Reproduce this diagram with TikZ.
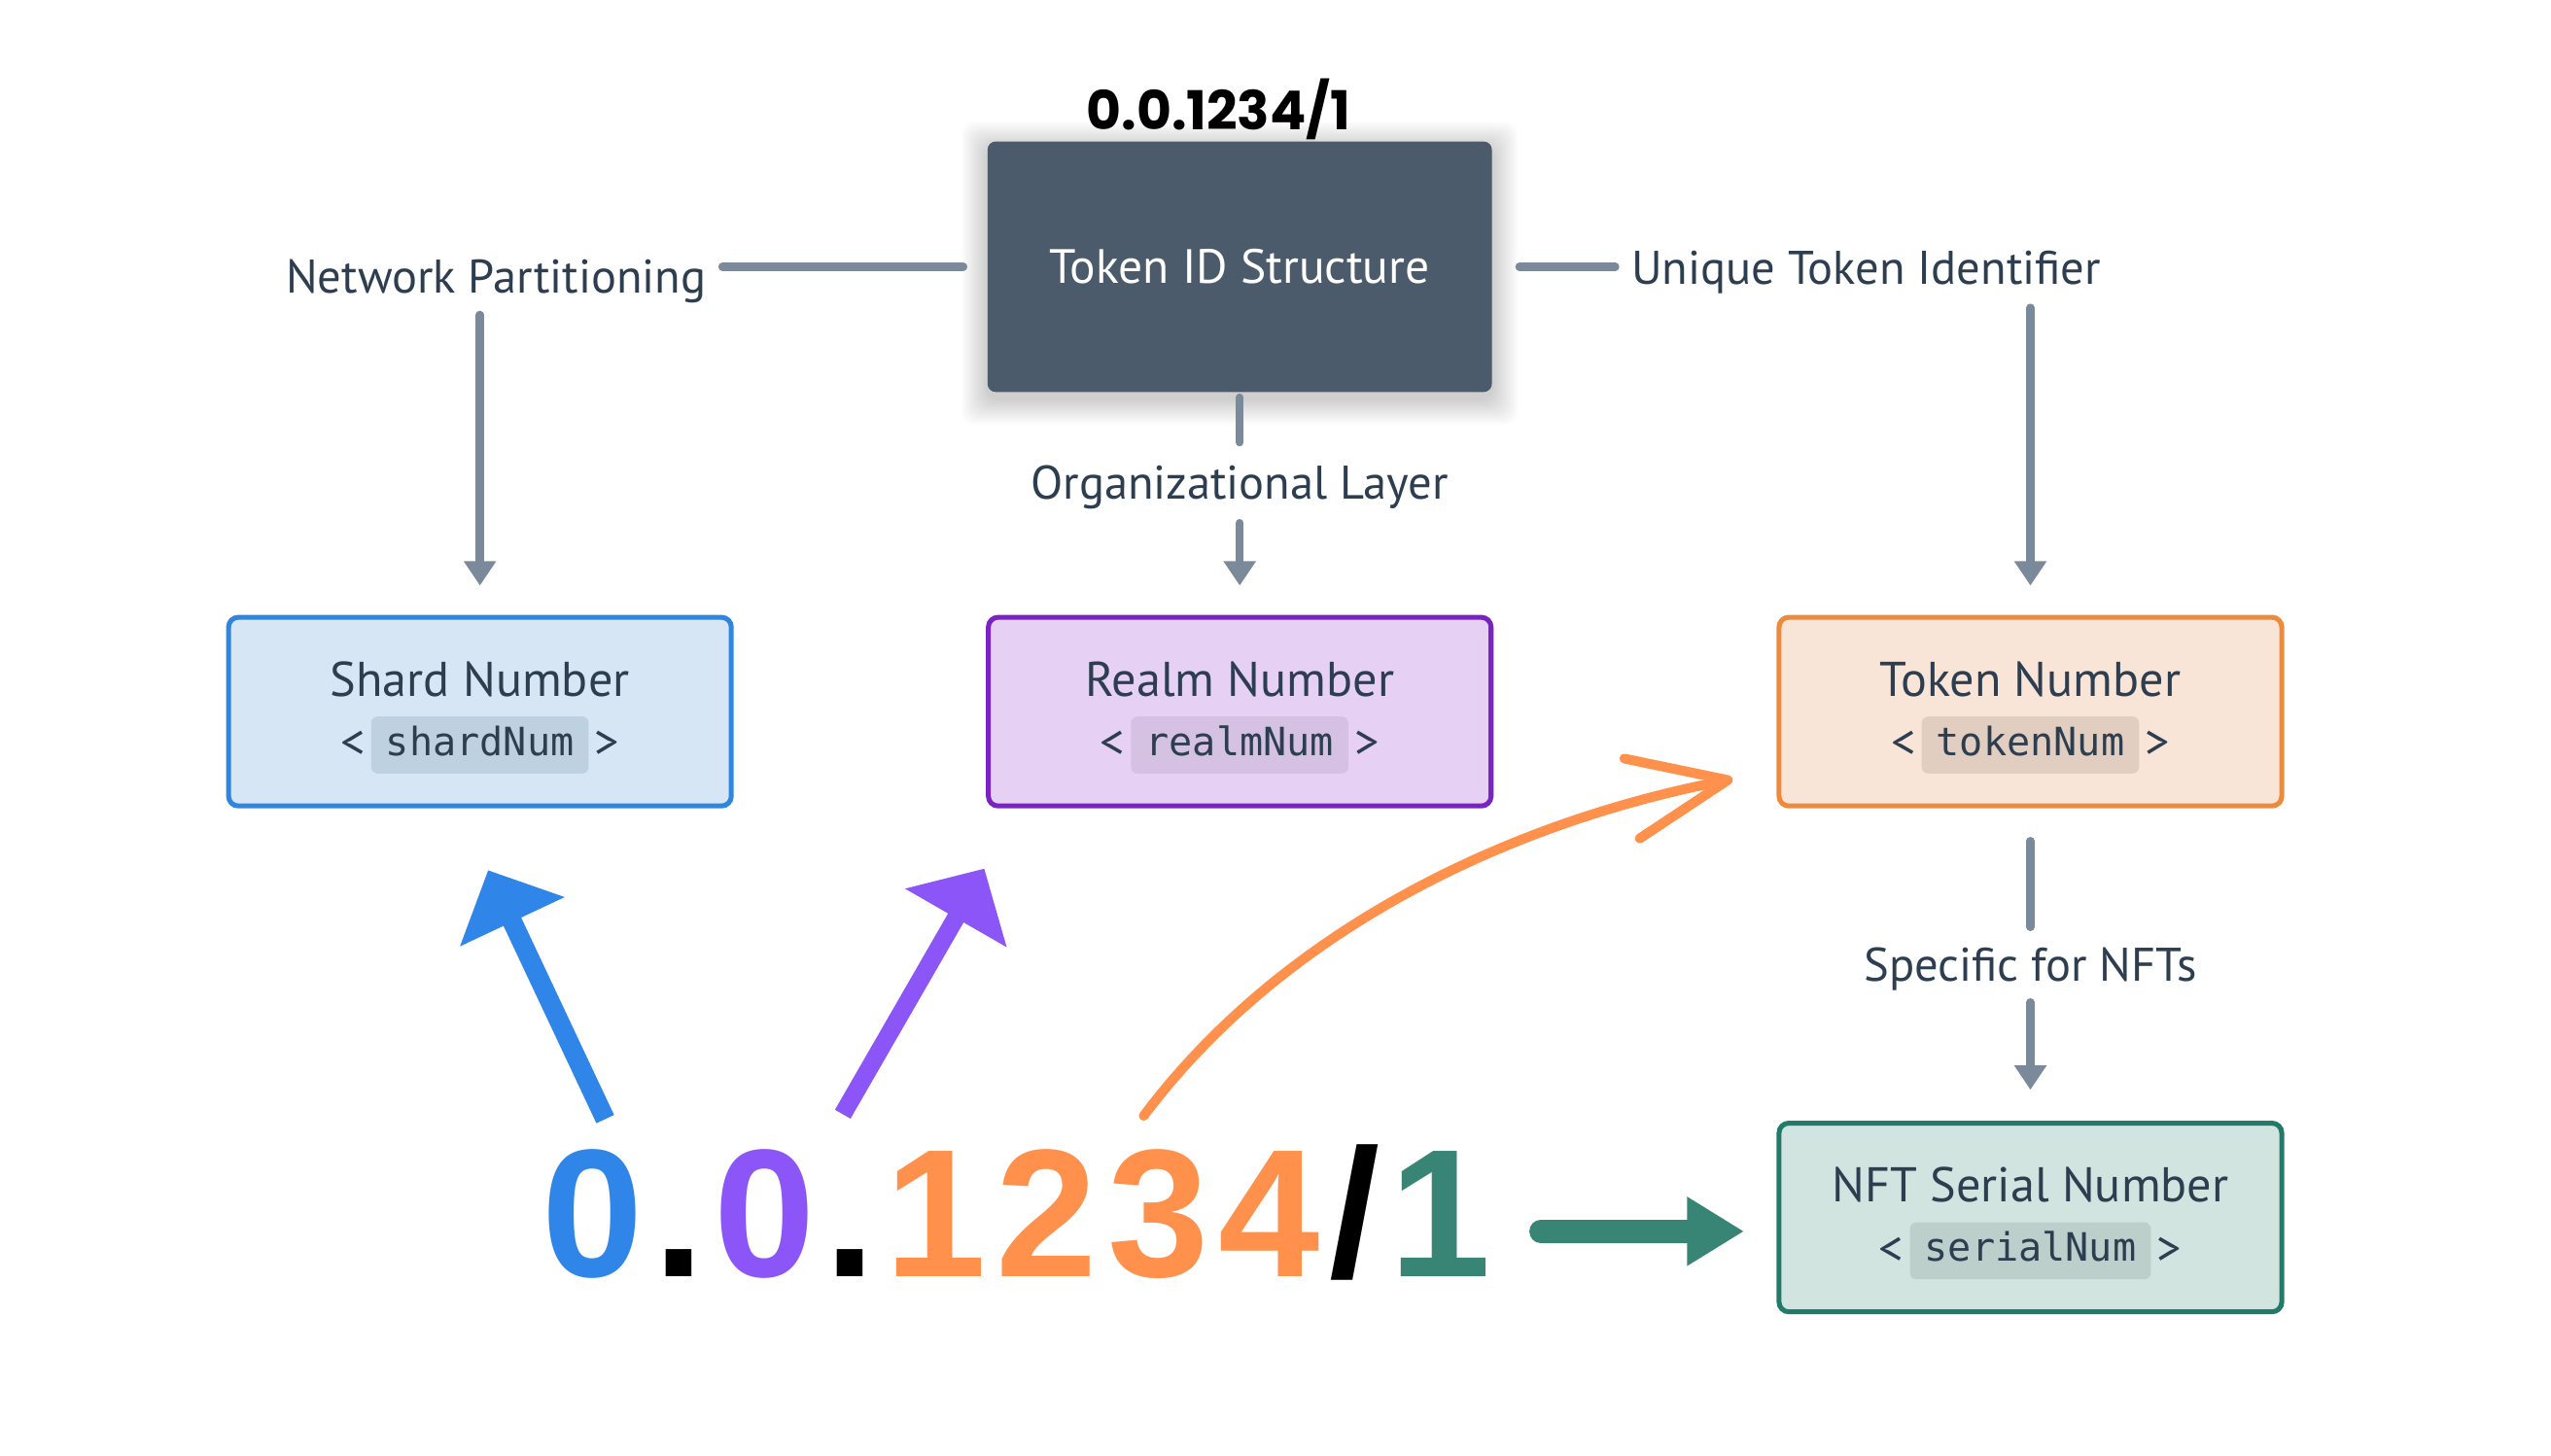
\documentclass[tikz,border=0pt]{standalone}
\usepackage{fontspec}
\setmainfont{PT Sans}
\setmonofont{DejaVu Sans Mono}
\newfontfamily\popfont{Poppins}
\newfontfamily\bigfont{Liberation Sans}
\usetikzlibrary{arrows.meta}
\definecolor{slate}{HTML}{4B5B6B}
\definecolor{conn}{HTML}{7B8A9A}
\definecolor{txt}{HTML}{2D3E50}
\definecolor{bBorder}{HTML}{2E86DE}\definecolor{bFill}{HTML}{D6E6F5}\definecolor{bCode}{HTML}{BED1E0}
\definecolor{pBorder}{HTML}{7B22C2}\definecolor{pFill}{HTML}{E6D1F4}\definecolor{pCode}{HTML}{D5C1E2}
\definecolor{oBorder}{HTML}{EE8A3C}\definecolor{oFill}{HTML}{F9E5D8}\definecolor{oCode}{HTML}{E1CEC0}
\definecolor{gBorder}{HTML}{227A68}\definecolor{gFill}{HTML}{D2E4E0}\definecolor{gCode}{HTML}{BCCFCB}
\definecolor{bigblue}{HTML}{2F86E8}
\definecolor{bigpurple}{HTML}{8C55F7}
\definecolor{bigorange}{HTML}{FF914D}
\definecolor{biggreen}{HTML}{388576}
\begin{document}
\begin{tikzpicture}[x=0.5pt,y=-0.5pt,
  lbl/.style={font=\fontsize{14.5}{16}\selectfont, text=txt, inner sep=0pt},
  ttl/.style={font=\fontsize{15}{17}\selectfont, text=txt, inner sep=0pt},
  cn/.style={draw=conn, line width=2.5pt, line cap=round},
  cnarr/.style={cn, -{Triangle[length=7.5pt,width=9.5pt]}},
  card/.style={line width=1.5pt, rounded corners=3pt, minimum width=154.5pt, minimum height=58pt, inner sep=0pt},
  code/.style={font=\ttfamily\fontsize{12}{14}\selectfont, text=txt, rounded corners=2pt, inner xsep=4.5pt, inner ysep=0pt, minimum height=17.5pt, text height=9pt, text depth=2.5pt},
  bigtxt/.style={font=\bigfont\bfseries\fontsize{56}{60}\selectfont, inner sep=0pt, anchor=base west}
]
\useasboundingbox[fill=white] (0,0) rectangle (1568,895);

% soft shadow of the main box
\foreach \e in {1,2,...,16}{
  \fill[black, opacity=0.01, rounded corners=4pt] (607-\e,87-\e+4) rectangle (917+\e,241+\e+4);
}

% top id
\node[anchor=base, inner sep=0pt, font=\popfont\bfseries\fontsize{16.5}{19}\selectfont] (idtop) at (749,80) {0.0.1234/1};

% main box
\node[fill=slate, rounded corners=2.5pt, minimum width=155pt, minimum height=77pt, inner sep=0pt,
  text=white, font=\fontsize{14.8}{17}\selectfont] (tid) at (762,164) {Token ID Structure};

% labels
\node[lbl, anchor=base] (net) at (305,180) {Network Partitioning};
\node[lbl, anchor=base] (uti) at (1147,175) {Unique Token Identifier};
\node[lbl, anchor=base] (org) at (762,307) {Organizational Layer};
\node[lbl, anchor=base] (nfts) at (1248,603) {Specific for NFTs};

% cards
\node[card, draw=bBorder, fill=bFill] (shard) at (295,437.5) {};
\node[card, draw=pBorder, fill=pFill] (realm) at (762,437.5) {};
\node[card, draw=oBorder, fill=oFill] (tok) at (1248,437.5) {};
\node[card, draw=gBorder, fill=gFill] (nft) at (1248,748.5) {};

\node[ttl, anchor=base] (shardT) at (295,428) {Shard Number};
\node[ttl, anchor=base] (realmT) at (762,428) {Realm Number};
\node[ttl, anchor=base] (tokT) at (1248,428) {Token Number};
\node[ttl, anchor=base] (nftT) at (1248,739) {NFT Serial Number};

\node[code, fill=bCode] (shardC) at (295,458) {shardNum};
\node[code, fill=pCode] (realmC) at (762,458) {realmNum};
\node[code, fill=oCode] (tokC) at (1248,458) {tokenNum};
\node[code, fill=gCode] (nftC) at (1248,769) {serialNum};

\foreach \c in {shardC,realmC,tokC,nftC}{
  \node[ttl, anchor=east] (\c L) at ([xshift=-1.5pt]\c.west) {<};
  \node[ttl, anchor=west] (\c R) at ([xshift=1.5pt]\c.east) {>};
}

% connectors
\draw[cn, shorten <=7.25pt, shorten >=4.75pt] (tid.west) -- (tid.west -| net.east);
\draw[cnarr, shorten <=3.5pt, shorten >=9pt] (net.south -| shard.north) -- (shard.north);
\draw[cn, shorten <=8.25pt, shorten >=4.75pt] (tid.east) -- (tid.east -| uti.west);
\draw[cnarr, shorten <=4pt, shorten >=9pt] (uti.south -| tok.north) -- (tok.north);
\draw[cn, shorten <=1.5pt, shorten >=7pt] (tid.south) -- (org.north);
\draw[cnarr, shorten <=4pt, shorten >=9pt] (org.south) -- (realm.north);
\draw[cn, shorten <=10pt, shorten >=6pt] (tok.south) -- (nfts.north);
\draw[cnarr, shorten <=3.5pt, shorten >=9.5pt] (nfts.south) -- (nft.north);

% big id
\node[bigtxt] (big) at (333,785) {\textcolor{bigblue}{0}\kern3pt.\kern3pt\textcolor{bigpurple}{0}\kern3pt.\kern3pt\textcolor{bigorange}{1\kern3pt2\kern3pt3\kern3pt4}\kern3pt/\kern3pt\textcolor{biggreen}{1}};

% coloured arrows
\coordinate (bS) at (372,688);
\coordinate (bE) at (300,535);
\coordinate (pS) at (518,685);
\coordinate (pE) at (605,534);
\coordinate (oS) at (703,686);
\coordinate (oE) at (1065,479);
\coordinate (gS) at (947,757);
\coordinate (gE) at (1072,757);
\draw[bigblue, line width=6pt, -{Triangle[length=17.5pt,width=34.5pt]}] (bS) -- (bE);
\draw[bigpurple, line width=5.5pt, -{Triangle[length=17.5pt,width=35pt]}] (pS) -- (pE);
\draw[bigorange, line width=3pt, line cap=round, -{Straight Barb[length=30pt,width=25pt,round]}] (oS) .. controls (790,570) and (930,505) .. (oE);
\draw[biggreen, line width=7pt, line cap=round, -{Triangle[length=17.5pt,width=20pt]}] (gS) -- (gE);
\end{tikzpicture}
\end{document}
